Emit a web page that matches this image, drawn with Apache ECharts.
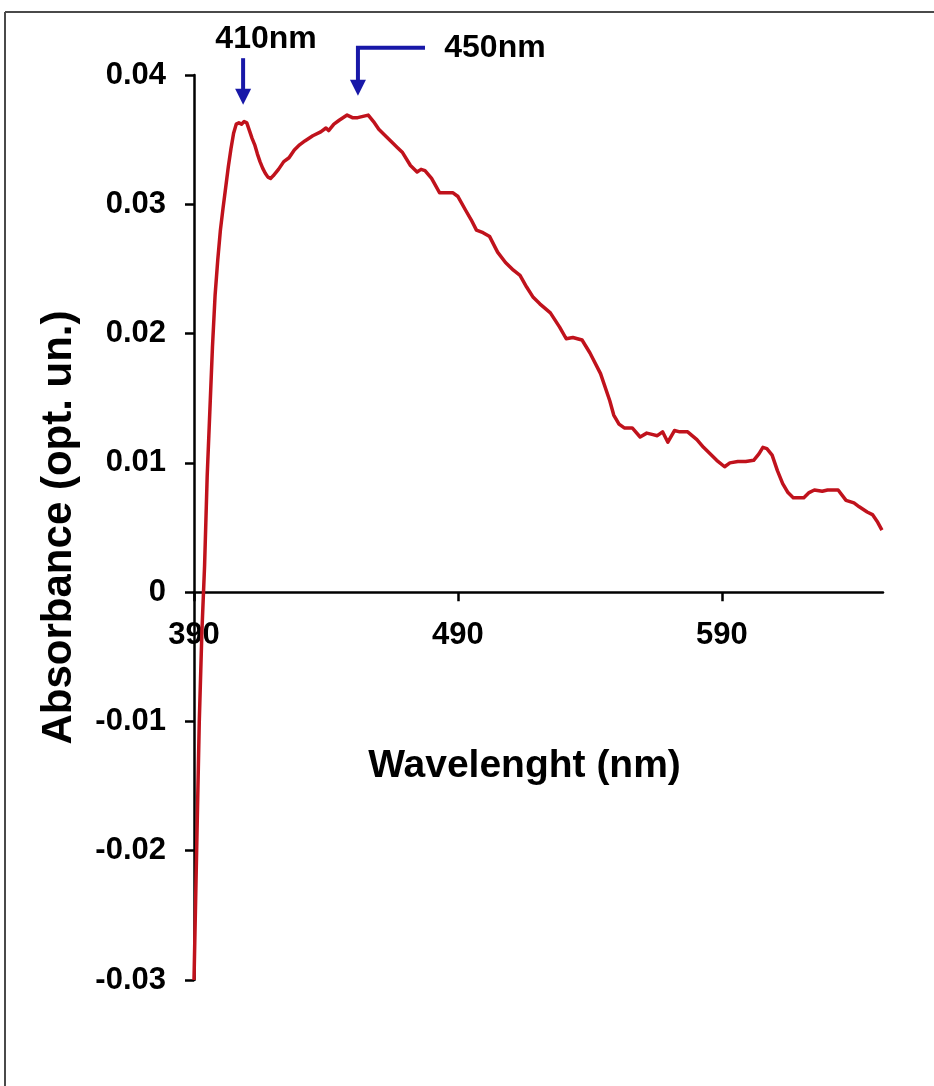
<!DOCTYPE html>
<html>
<head>
<meta charset="utf-8">
<script src="https://cdn.jsdelivr.net/npm/echarts@6/dist/echarts.min.js"></script>
<style>
html,body{margin:0;padding:0;background:#fff;}
#chart{width:934px;height:1086px;}
</style>
</head>
<body>
<div id="chart"></div>
<script>
// Wavelength (nm)
var wavelength = [390, 391, 392, 393, 394, 395, 396, 397, 398, 399, 400, 401, 402, 403, 404, 405, 406, 407, 408, 409, 410, 411, 412, 413, 414, 415, 416, 417, 418, 419, 420, 422, 424, 426, 428, 430, 432, 435, 438, 440, 441, 443, 445, 448, 450, 452, 454, 456, 458, 460, 462, 465, 467, 469, 472, 474.5, 476, 477.5, 480, 483, 486, 488, 490, 493, 495, 497, 499.5, 502, 505, 508, 511, 513.5, 516, 518.5, 521, 525, 528.5, 531, 533.5, 537, 540, 544, 547.5, 549, 551, 553, 556, 559, 561.5, 563.5, 565.5, 567.5, 569.5, 572, 574, 577, 580.5, 583, 585.5, 588, 591, 593, 596, 599, 602, 604, 605.5, 607, 609, 611, 613, 615, 617, 621, 623, 625, 628, 630, 634, 637, 640, 642, 645, 647, 649, 650.6];
// Absorbance (opt. un.)
var absorbance = [-0.030, -0.020, -0.010, -0.003, 0.002, 0.009, 0.014, 0.019, 0.023, 0.0257, 0.028, 0.0297, 0.0313, 0.0329, 0.0343, 0.0355, 0.0362, 0.0363, 0.0362, 0.0364, 0.0363, 0.0357, 0.0351, 0.0346, 0.0339, 0.0333, 0.0328, 0.0324, 0.0321, 0.0320, 0.0322, 0.0327, 0.0333, 0.0336, 0.0342, 0.0346, 0.0349, 0.0353, 0.0356, 0.0359, 0.0357, 0.0362, 0.0365, 0.0369, 0.0367, 0.0367, 0.0368, 0.0369, 0.0364, 0.0358, 0.0354, 0.0348, 0.0344, 0.0340, 0.0330, 0.0325, 0.0327, 0.0326, 0.0320, 0.0309, 0.0309, 0.0309, 0.0306, 0.0295, 0.0288, 0.0280, 0.0278, 0.0275, 0.0263, 0.0255, 0.0249, 0.0245, 0.0236, 0.0228, 0.0223, 0.0216, 0.0205, 0.0196, 0.0197, 0.0195, 0.0185, 0.0169, 0.0148, 0.0137, 0.0130, 0.0127, 0.0127, 0.0120, 0.0123, 0.0122, 0.0121, 0.0124, 0.0116, 0.0125, 0.0124, 0.0124, 0.0118, 0.0112, 0.0107, 0.0102, 0.0097, 0.0100, 0.0101, 0.0101, 0.0102, 0.0107, 0.0112, 0.0111, 0.0106, 0.0094, 0.0084, 0.0077, 0.0073, 0.0073, 0.0077, 0.0079, 0.0078, 0.0079, 0.0079, 0.0071, 0.0069, 0.0066, 0.0062, 0.0060, 0.0054, 0.0048];
// Tick labels
var xTicks = [390, 490, 590];
var yTicks = [-0.03, -0.02, -0.01, 0, 0.01, 0.02, 0.03, 0.04];
// Peak annotations
var peakLabels = ['410nm', '450nm'];
var peakWavelengths = [408.6, 452.1];

var FONT = "'Liberation Sans', Arial, Helvetica, sans-serif";
var chart = echarts.init(document.getElementById('chart'), null, {renderer: 'canvas'});

var seriesData = wavelength.map(function (w, i) { return [w, absorbance[i]]; });

var X_MIN = 390, X_MAX = 651;
var Y_MIN = yTicks[0], Y_MAX = yTicks[yTicks.length - 1];
var GRID = {left: 194, right: 51, top: 75, bottom: 106};
var gridH = 1086 - GRID.top - GRID.bottom;
// move the x axis (line, ticks, labels, name) up to the y = 0 line
var xAxisOffset = -gridH * (0 - Y_MIN) / (Y_MAX - Y_MIN);

var option = {
  backgroundColor: '#ffffff',
  animation: false,
  grid: {left: GRID.left, right: GRID.right, top: GRID.top, bottom: GRID.bottom, containLabel: false, outerBoundsMode: 'none'},
  xAxis: {
    type: 'value',
    min: X_MIN,
    max: X_MAX,
    interval: 100,
    offset: xAxisOffset,
    name: 'Wavelenght (nm)',
    nameLocation: 'middle',
    nameGap: 155,
    nameTextStyle: {fontFamily: FONT, fontWeight: 'bold', fontSize: 39, color: '#000', padding: [0, 28, 0, 0]},
    axisLine: {onZero: false, lineStyle: {color: '#000', width: 2.5}},
    axisTick: {show: true, length: 9, lineStyle: {color: '#000', width: 2.5}, customValues: xTicks},
    axisLabel: {fontFamily: FONT, fontWeight: 'bold', fontSize: 31, color: '#000', margin: 28, customValues: xTicks},
    splitLine: {show: false}
  },
  yAxis: {
    type: 'value',
    min: Y_MIN,
    max: Y_MAX,
    interval: 0.01,
    name: 'Absorbance (opt. un.)',
    nameLocation: 'middle',
    nameGap: 114,
    nameTextStyle: {fontFamily: FONT, fontWeight: 'bold', fontSize: 42, color: '#000'},
    axisLine: {show: true, onZero: false, lineStyle: {color: '#000', width: 2.5}},
    axisTick: {show: true, length: 9, lineStyle: {color: '#000', width: 2.5}},
    axisLabel: {
      fontFamily: FONT, fontWeight: 'bold', fontSize: 31, color: '#000', margin: 28,
      formatter: function (v) {
        var r = Math.round(v * 100) / 100;
        return r === 0 ? '0' : r.toFixed(2);
      }
    },
    splitLine: {show: false}
  },
  series: [{
    type: 'line',
    data: seriesData,
    showSymbol: false,
    symbol: 'none',
    smooth: false,
    clip: false,
    lineStyle: {color: '#c0121c', width: 3.5, join: 'round'}
  }]
};
chart.setOption(option);

// annotations placed through the chart's own coordinate conversion
function px(x, y) { return chart.convertToPixel({gridIndex: 0}, [x, y]); }
var BLUE = '#1818a8';
var graphics = [];
// page frame lines
graphics.push({type: 'line', shape: {x1: 5, y1: 12, x2: 934, y2: 12}, style: {stroke: '#4a4a4a', lineWidth: 2}, silent: true});
graphics.push({type: 'line', shape: {x1: 5, y1: 12, x2: 5, y2: 1086}, style: {stroke: '#4a4a4a', lineWidth: 2}, silent: true});

function arrowDown(points) {
  // points: polyline in data coords; last point is arrow tip
  var p = points.map(function (d) { return px(d[0], d[1]); });
  var tip = p[p.length - 1];
  var headH = 16, headW = 8;
  var lineEnd = p.slice(0, p.length - 1).concat([[tip[0], tip[1] - headH + 2]]);
  graphics.push({type: 'polyline', shape: {points: lineEnd}, style: {stroke: BLUE, lineWidth: 4, fill: null}, silent: true});
  graphics.push({type: 'polygon', shape: {points: [[tip[0] - headW, tip[1] - headH], [tip[0] + headW, tip[1] - headH], [tip[0], tip[1]]]}, style: {fill: BLUE}, silent: true});
}
arrowDown([[peakWavelengths[0], 0.0413], [peakWavelengths[0], 0.0377]]);
arrowDown([[477.5, 0.0421], [peakWavelengths[1], 0.0421], [peakWavelengths[1], 0.0384]]);

var t1 = px(417.3, 0.0428);
var t2 = px(504, 0.0421);
graphics.push({type: 'text', x: t1[0], y: t1[1], style: {text: peakLabels[0], font: 'bold 32px ' + FONT, fill: '#000', textAlign: 'center', textVerticalAlign: 'middle'}, silent: true});
graphics.push({type: 'text', x: t2[0], y: t2[1], style: {text: peakLabels[1], font: 'bold 32px ' + FONT, fill: '#000', textAlign: 'center', textVerticalAlign: 'middle'}, silent: true});

chart.setOption({graphic: graphics});
</script>
</body>
</html>
